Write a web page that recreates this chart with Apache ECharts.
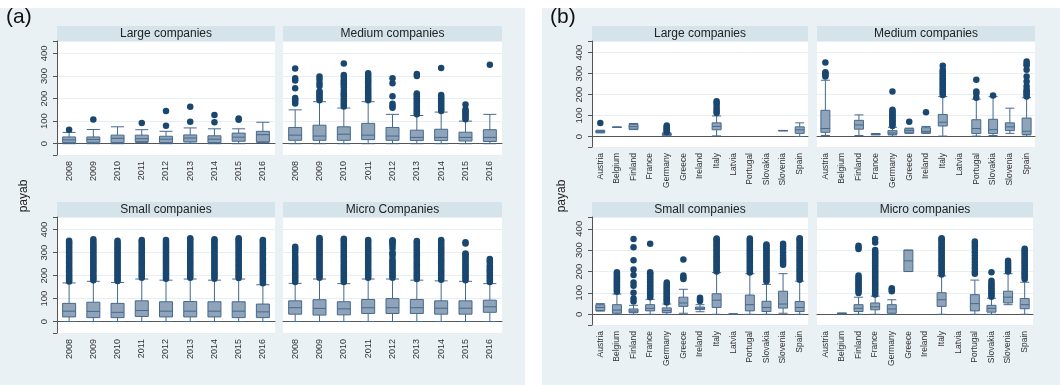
<!DOCTYPE html>
<html><head><meta charset="utf-8">
<script src="https://cdn.jsdelivr.net/npm/echarts@6/dist/echarts.min.js"></script>
<style>html,body{margin:0;padding:0;background:#fff}#c{width:1060px;height:385px}</style>
</head><body><div id="c"></div>
<script>
// ---------- categories & ticks ----------
const years = ['2008','2009','2010','2011','2012','2013','2014','2015','2016'];
const countries = ['Austria','Belgium','Finland','France','Germany','Greece','Ireland','Italy','Latvia','Portugal','Slovakia','Slovenia','Spain'];
const yTicks = [0, 100, 200, 300, 400];
const panelLabels = ['(a)', '(b)'];
const subTitlesA = ['Large companies', 'Medium companies', 'Small companies', 'Micro Companies'];
const subTitlesB = ['Large companies', 'Medium companies', 'Small companies', 'Micro companies'];
const yName = 'payab';

// ---------- (a) by year: [min, Q1, median, Q3, max] ----------
const aLargeBox = [[0,5,17,30,50],[0,6,19,30,63],[0,5,24,38,75],[5,9,22,38,62],[0,5,20,33,55],[2,8,25,39,70],[0,5,20,35,66],[0,11,29,47,66],[5,8,40,55,95]];
const aLargeOut = [[62],[107],[],[92],[80,145],[97,164],[95,127],[106,112],[]];

const aMediumBox = [[0,15,38,72,150],[0,15,34,82,186],[0,15,42,75,158],[0,18,38,90,186],[0,15,34,72,130],[0,14,28,60,125],[0,14,28,64,140],[0,12,28,51,100],[0,10,28,62,130]];
const aMediumOut = [
  [178,188,196,203,246,280,290,333],
  [192,200,210,218,226,232,256,268,285,298],
  [165,174,182,190,198,210,218,225,236,250,260,268,276,283,295,304,355],
  [192,200,208,216,224,232,240,248,256,264,272,280,288,296,304,312],
  [159,167,177,210,268,290],
  [130,137,144,152,160,168,176,184,192,200,208,216,222,300,309],
  [145,152,160,168,176,184,192,200,208,216,335],
  [108,116,124,131,138,145,152,174],
  [350]
];

const aSmallBox = [[0,20,45,79,168],[0,17,44,84,175],[0,17,40,79,170],[0,22,48,90,185],[0,20,45,86,180],[0,20,45,87,185],[0,20,45,86,180],[0,17,45,86,185],[0,17,42,76,160]];
const aSmallOut = [
  [174,181,188,196,203,211,219,226,234,242,250,258,266,274,282,290,298,306,314,322,330,338,345,352],
  [180,188,195,203,211,219,227,235,243,251,259,267,275,283,291,299,307,315,323,331,339,347,358],
  [176,183,191,199,207,215,223,231,239,247,255,263,271,279,287,295,303,311,319,327,335,344,352],
  [190,198,206,214,222,230,238,246,254,262,270,278,286,294,302,310,318,326,334,342,349,355],
  [186,194,202,210,218,226,234,242,250,258,266,274,282,290,298,306,314,322,330,338,346,355],
  [190,198,206,214,222,230,238,246,254,262,270,278,286,294,302,310,318,326,334,342,350,357,362],
  [186,194,202,210,218,226,234,242,250,258,266,274,282,290,298,306,314,322,330,338,346,352,358],
  [189,197,205,213,221,229,237,245,253,261,269,277,285,293,301,309,317,325,333,341,349,356,362],
  [167,175,183,191,199,207,215,223,231,239,247,255,263,271,279,287,295,303,311,319,327,335,343,350,355]
];

const aMicroBox = [[0,32,60,90,166],[0,28,57,95,185],[0,29,55,86,165],[0,35,60,96,185],[0,35,60,100,185],[0,35,60,96,180],[0,32,58,90,177],[0,32,58,90,175],[0,40,64,93,165]];
const aMicroOut = [
  [172,180,188,196,204,212,220,228,236,244,252,260,268,276,285,300,310,318,325],
  [190,198,206,214,222,230,238,246,254,262,270,278,286,294,302,310,318,326,334,342,350,358,364],
  [172,180,188,196,204,212,220,228,236,244,252,260,268,276,284,292,300,308,316,324,332,340,348,355,360],
  [190,198,206,214,222,230,238,246,254,262,270,278,286,294,302,310,318,326,334,342,350,355],
  [190,198,206,214,222,230,238,246,254,262,270,285,295,300,318,330,338,345,350,354],
  [185,193,201,209,217,225,233,241,249,257,265,273,281,289,297,305,313,321,329,337,345,350],
  [182,190,198,206,214,222,230,238,246,254,262,270,278,286,294,302,310,318,326,334,342,350,355],
  [180,188,196,204,212,220,228,236,244,252,260,268,276,284,292,296,340,345],
  [172,180,188,196,204,212,220,228,236,245,258,265,272]
];

// ---------- (b) by country: [min, Q1, median, Q3, max], null = no data ----------
const bLargeBox = [[17,20,24,27,30],[43,44,44,44,45],[33,35,47,58,62],null,[3,6,10,14,18],null,null,[3,32,48,65,98],null,null,null,[27,28,28,28,29],[0,15,32,46,65]];
const bLargeOut = [[64],[],[],[],[22,27,32,37,42,47,53],[],[],[112,122,132,145,158,168],[],[],[],[],[]];

const bMediumBox = [[5,20,38,125,268],null,[5,35,55,77,103],[8,9,11,13,14],[2,10,17,28,44],[15,17,28,37,40],[15,17,25,42,48],[2,50,68,105,190],null,[2,14,38,80,178],[5,14,33,82,190],[15,28,46,65,135],[2,10,25,88,185]];
const bMediumOut = [
  [286,294,300,306,353],[],[],[],
  [50,57,64,71,78,85,92,99,106,113,120,128,215],
  [70],[116],
  [198,206,214,222,230,238,246,254,262,270,278,286,294,302,310,318,337],
  [],[185,205,215,270],[195],[],
  [191,199,207,215,223,239,262,286,318,340,346,357]
];

const bSmallBox = [[15,18,32,45,50],[0,5,20,45,95],[0,8,15,25,42],[0,16,28,45,70],[0,8,18,30,48],[5,37,53,80,117],[12,22,28,34,45],[0,32,66,96,195],[0,0,1,1,2],[0,16,45,90,190],[0,13,32,61,140],[5,29,48,108,190],[0,13,32,60,155]];
const bSmallOut = [
  [],
  [105,112,119,126,133,140,147,154,161,168,175,182,190,197],
  [60,74,101,133,149,184,210,253,314,352],
  [80,87,94,101,108,115,122,129,136,143,150,157,164,171,178,185,192,197,330],
  [55,62,69,76,83,90,97,104,111,118,125,132,139,149],
  [165,172,181,256],
  [62,70,78],
  [200,208,216,224,232,240,248,256,264,272,280,288,296,304,312,320,328,336,344,350,355],
  [],
  [196,204,212,220,228,236,244,252,260,268,276,284,292,300,308,316,324,332,340,348,355],
  [155,163,171,179,187,195,203,211,219,227,235,243,251,259,267,275,283,291,299,307,315,322,326],
  [232,242,252,262,275,290,305,318,330],
  [162,170,178,186,194,202,210,218,226,234,242,250,258,266,274,282,290,298,306,314,322,330,338,346,352,356]
];

const bMicroBox = [null,[2,3,4,5,6],[0,13,28,45,80],[0,21,35,53,85],[0,5,25,45,68],[200,200,250,300,300],null,[0,37,68,101,180],null,[0,16,50,92,160],[0,10,28,42,75],[45,53,80,108,190],[0,26,45,74,150]];
const bMicroOut = [
  [],[],
  [100,108,116,124,132,140,148,156,164,172,181,305,312,320],
  [93,101,109,117,125,133,141,149,157,165,173,181,189,197,205,213,221,229,237,245,253,261,269,277,285,293,301,336,352],
  [108,115,122],
  [],[],
  [186,194,202,210,218,226,234,242,250,258,266,274,282,290,298,306,314,322,330,338,346,352,356],
  [],
  [190,200,215,230,245,260,275,290,305,318,330,340],
  [82,90,98,106,114,122,130,138,146,157,197],
  [200,210,220,230,240,250],
  [165,173,181,189,197,205,213,221,229,237,245,253,261,269,277,285,293,300,306]
];

// ---------- layout & style ----------
const FONT = 'Liberation Sans, Arial, sans-serif';
const BG = '#e9f1f4', STRIP = '#d5e3ea', NAVY = '#1a476f';
const BOX_FILL = '#8fa3b9', BOX_LINE = '#46698e';

const panels = [
  {t: subTitlesA[0], cats: years, box: aLargeBox,  out: aLargeOut,  l: 57,  tp: 41,  w: 218, h: 114, yl: true,  bw: 13},
  {t: subTitlesA[1], cats: years, box: aMediumBox, out: aMediumOut, l: 283, tp: 41,  w: 219, h: 114, yl: false, bw: 13},
  {t: subTitlesA[2], cats: years, box: aSmallBox,  out: aSmallOut,  l: 57,  tp: 217, w: 218, h: 116, yl: true,  bw: 13},
  {t: subTitlesA[3], cats: years, box: aMicroBox,  out: aMicroOut,  l: 283, tp: 217, w: 219, h: 116, yl: false, bw: 13},
  {t: subTitlesB[0], cats: countries, box: bLargeBox,  out: bLargeOut,  l: 592, tp: 41,  w: 216, h: 106, yl: true,  bw: 9},
  {t: subTitlesB[1], cats: countries, box: bMediumBox, out: bMediumOut, l: 817, tp: 41,  w: 218, h: 106, yl: false, bw: 9},
  {t: subTitlesB[2], cats: countries, box: bSmallBox,  out: bSmallOut,  l: 592, tp: 217, w: 216, h: 108, yl: true,  bw: 9},
  {t: subTitlesB[3], cats: countries, box: bMicroBox,  out: bMicroOut,  l: 817, tp: 217, w: 216, h: 108, yl: false, bw: 9}
];

const grid = [], xAxis = [], yAxis = [], series = [];
const graphic = [
  {type: 'rect', shape: {x: 0, y: 8, width: 525, height: 377}, style: {fill: BG}, z: -100, silent: true},
  {type: 'rect', shape: {x: 542, y: 8, width: 518, height: 377}, style: {fill: BG}, z: -100, silent: true},
  {type: 'text', x: 6, y: 7, style: {text: panelLabels[0], font: '21px ' + FONT, fill: '#111'}},
  {type: 'text', x: 550, y: 7, style: {text: panelLabels[1], font: '21px ' + FONT, fill: '#111'}},
  {type: 'text', x: 24, y: 196, rotation: Math.PI / 2, style: {text: yName, font: '12px ' + FONT, fill: '#222', align: 'center', verticalAlign: 'middle'}},
  {type: 'text', x: 562, y: 196, rotation: Math.PI / 2, style: {text: yName, font: '12px ' + FONT, fill: '#222', align: 'center', verticalAlign: 'middle'}}
];

panels.forEach((p, i) => {
  grid.push({left: p.l, top: p.tp, width: p.w, height: p.h, show: true, backgroundColor: '#fff', borderWidth: 0, containLabel: false});
  xAxis.push({
    type: 'category', gridIndex: i, data: p.cats, boundaryGap: true,
    axisLine: {show: true, lineStyle: {color: '#555', width: 1}},
    axisTick: {show: false},
    axisLabel: {rotate: 90, interval: 0, fontSize: p.cats === years ? 9 : 8.5, fontFamily: FONT, color: '#333', margin: 6},
    splitLine: {show: false}
  });
  yAxis.push({
    type: 'value', gridIndex: i, min: -50, max: 455, splitNumber: 5,
    axisLine: {show: p.yl, lineStyle: {color: '#555', width: 1}},
    axisTick: {show: p.yl, length: 4, lineStyle: {color: '#555'},
      interval: (idx, v) => yTicks.indexOf(+v) >= 0},
    axisLabel: {show: false},
    splitLine: {show: true, lineStyle: {color: '#e8eff2', width: 1}}
  });
  series.push({
    type: 'boxplot', xAxisIndex: i, yAxisIndex: i,
    boxWidth: [p.bw, p.bw],
    itemStyle: {color: BOX_FILL, borderColor: BOX_LINE, borderWidth: 1},
    data: p.box.map(b => b ? b : ['-', '-', '-', '-', '-'])
  });
  const pts = [];
  p.out.forEach((arr, ci) => arr.forEach(v => pts.push([p.cats[ci], v])));
  series.push({
    type: 'scatter', xAxisIndex: i, yAxisIndex: i, symbolSize: 6.5,
    itemStyle: {color: NAVY, opacity: 1}, data: pts, z: 3
  });
  if (p.yl) {
    // vertical y tick labels, positioned through the axis scale
    series.push({
      type: 'custom', xAxisIndex: i, yAxisIndex: i, silent: true, clip: false,
      data: yTicks.map(v => [0, v]),
      renderItem: (params, api) => {
        const pt = api.coord([0, api.value(1)]);
        const band = api.size([1, 0])[0];
        return {
          type: 'text', x: pt[0] - band / 2 - 13, y: pt[1], rotation: Math.PI / 2,
          style: {text: String(api.value(1)), font: '9.5px ' + FONT, fill: '#333', align: 'center', verticalAlign: 'middle'}
        };
      }
    });
  }
  graphic.push({type: 'rect', shape: {x: p.l, y: p.tp - 15, width: p.w, height: 15}, style: {fill: STRIP}, z: -50, silent: true});
  graphic.push({type: 'text', x: p.l + p.w / 2, y: p.tp - 7.5, style: {text: p.t, font: '12px ' + FONT, fill: '#222', align: 'center', verticalAlign: 'middle'}});
});

const chart = echarts.init(document.getElementById('c'), null, {renderer: 'canvas'});
chart.setOption({animation: false, backgroundColor: '#fff', grid, xAxis, yAxis, series, graphic});
</script></body></html>
